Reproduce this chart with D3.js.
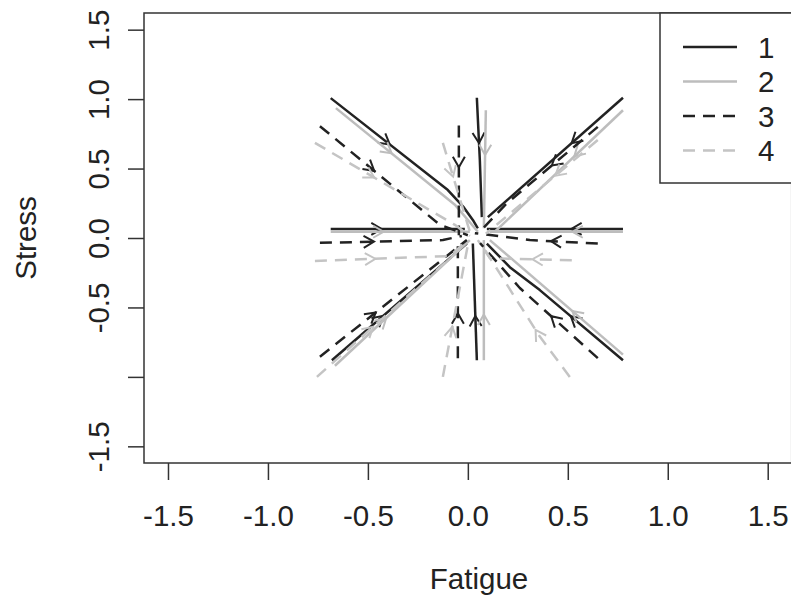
<!DOCTYPE html>
<html>
<head>
<meta charset="utf-8">
<script src="https://cdn.jsdelivr.net/npm/d3@7"></script>
<style>
  body { margin: 0; background: #fff; }
  text { font-family: "Liberation Sans", Arial, sans-serif; fill: #222; }
</style>
</head>
<body>
<svg id="chart" width="791" height="606"></svg>
<script>
// tick values and labels
var xTicks = [-1.5, -1.0, -0.5, 0.0, 0.5, 1.0, 1.5];
var xTickLabels = ['-1.5', '-1.0', '-0.5', '0.0', '0.5', '1.0', '1.5'];
var yTicks = [-1.5, -1.0, -0.5, 0.0, 0.5, 1.0, 1.5];
var yTickLabels = ['-1.5', '', '-0.5', '0.0', '0.5', '1.0', '1.5'];

var seriesNames = ['1', '2', '3', '4'];

// trajectories, each from its starting point towards the centre
var series1Paths = [
  [[-0.686, 1.007], [-0.10, 0.345], [-0.02, 0.22], [0.025, 0.13], [0.05, 0.07]],
  [[0.045, 1.01], [0.06, 0.56], [0.07, 0.15]],
  [[0.776, 1.01], [0.10, 0.15]],
  [[0.776, 0.065], [0.095, 0.065]],
  [[-0.686, 0.065], [-0.015, 0.065]],
  [[-0.68, -0.88], [-0.005, -0.04]],
  [[0.045, -0.88], [0.025, -0.04]],
  [[0.776, -0.88], [0.36, -0.375], [0.21, -0.21], [0.095, -0.04]]
];
var series2Paths = [
  [[-0.66, 0.935], [-0.065, 0.24], [0.05, 0.045]],
  [[0.09, 0.92], [0.08, 0.07]],
  [[0.776, 0.92], [0.135, 0.045]],
  [[0.776, 0.045], [0.11, 0.045]],
  [[-0.686, 0.045], [0.01, 0.045]],
  [[-0.665, -0.92], [0.01, -0.015]],
  [[0.08, -0.88], [0.08, -0.015]],
  [[0.776, -0.84], [0.11, -0.015]]
];
var series3Paths = [
  [[-0.74, 0.805], [-0.14, 0.095], [0.0, 0.02]],
  [[-0.045, 0.81], [-0.045, 0.02]],
  [[0.65, 0.80], [0.195, 0.25], [0.06, 0.045]],
  [[0.65, -0.04], [0.31, -0.015], [0.035, 0.035]],
  [[-0.74, -0.035], [-0.125, -0.015], [-0.03, 0.015]],
  [[-0.74, -0.855], [-0.005, -0.015]],
  [[-0.05, -0.865], [-0.05, -0.015]],
  [[0.65, -0.865], [0.26, -0.36], [0.06, -0.035]]
];
var series4Paths = [
  [[-0.765, 0.685], [-0.065, 0.095], [0.01, 0.015]],
  [[-0.125, 0.685], [0.01, 0.045]],
  [[0.65, 0.705], [0.09, 0.03]],
  [[0.52, -0.16], [0.11, -0.145], [0.05, -0.015]],
  [[-0.765, -0.165], [-0.09, -0.13], [0.0, -0.015]],
  [[-0.755, -1.0], [-0.015, -0.05]],
  [[-0.125, -1.0], [0.0, -0.05]],
  [[0.51, -1.0], [0.36, -0.71], [0.085, -0.085]]
];

var allSeries = [
  { name: seriesNames[0], paths: series1Paths, color: '#222', dash: null, width: 2.5 },
  { name: seriesNames[1], paths: series2Paths, color: '#bdbdbd', dash: null, width: 2.5 },
  { name: seriesNames[2], paths: series3Paths, color: '#222', dash: '12,8', width: 2.5 },
  { name: seriesNames[3], paths: series4Paths, color: '#c4c4c4', dash: '12,8', width: 2.5 }
];

var fontSize = 29.5;

var svg = d3.select('#chart');

var x = d3.scaleLinear().domain([-1.62, 1.62]).range([144, 791.7]);
var y = d3.scaleLinear().domain([-1.62, 1.62]).range([463, 13]);

// axes
var xAxis = svg.append('g')
  .attr('transform', 'translate(0,463)')
  .call(d3.axisBottom(x).tickValues(xTicks).tickSize(17).tickSizeOuter(0).tickPadding(25)
    .tickFormat(function(d, i) { return xTickLabels[i]; }));
xAxis.select('.domain').remove();
xAxis.selectAll('line').attr('stroke', '#333').attr('stroke-width', 1.5);
xAxis.selectAll('text').attr('font-size', fontSize).attr('fill', '#222');

var yAxis = svg.append('g')
  .attr('transform', 'translate(144,0)')
  .call(d3.axisLeft(y).tickValues(yTicks).tickSize(16).tickSizeOuter(0)
    .tickFormat(function(d, i) { return yTickLabels[i]; }));
yAxis.select('.domain').remove();
yAxis.selectAll('line').attr('stroke', '#333').attr('stroke-width', 1.5);
yAxis.selectAll('text')
  .attr('font-size', fontSize)
  .attr('fill', '#222')
  .attr('x', null)
  .attr('dy', null)
  .attr('text-anchor', 'middle')
  .attr('transform', 'translate(-46,0) rotate(-90)')
  .attr('dominant-baseline', 'central');

// axis titles
svg.append('text')
  .attr('x', 479).attr('y', 578)
  .attr('text-anchor', 'middle')
  .attr('dominant-baseline', 'central')
  .attr('font-size', fontSize)
  .text('Fatigue');
svg.append('text')
  .attr('transform', 'translate(25,238) rotate(-90)')
  .attr('text-anchor', 'middle')
  .attr('dominant-baseline', 'central')
  .attr('font-size', fontSize)
  .text('Stress');

// trajectories
var line = d3.line()
  .x(function(d) { return x(d[0]); })
  .y(function(d) { return y(d[1]); });

var pointAt = function(path, frac) {
  var pts = path.map(function(d) { return [x(d[0]), y(d[1])]; });
  var lens = [];
  var total = 0;
  for (var i = 1; i < pts.length; i++) {
    var l = Math.hypot(pts[i][0] - pts[i - 1][0], pts[i][1] - pts[i - 1][1]);
    lens.push(l);
    total += l;
  }
  var target = total * frac;
  for (var j = 0; j < lens.length; j++) {
    if (target <= lens[j] || j === lens.length - 1) {
      var t = target / lens[j];
      var a = pts[j], b = pts[j + 1];
      return {
        x: a[0] + (b[0] - a[0]) * t,
        y: a[1] + (b[1] - a[1]) * t,
        angle: Math.atan2(b[1] - a[1], b[0] - a[0])
      };
    }
    target -= lens[j];
  }
};

var plot = svg.append('g');

allSeries.forEach(function(s) {
  var g = plot.append('g').attr('class', 'series');
  g.selectAll('path.traj')
    .data(s.paths)
    .enter().append('path')
    .attr('class', 'traj')
    .attr('d', line)
    .attr('fill', 'none')
    .attr('stroke', s.color)
    .attr('stroke-width', s.width)
    .attr('stroke-linejoin', 'round')
    .attr('stroke-dasharray', s.dash);

  // open arrowheads part way along
  g.selectAll('path.arrow')
    .data(s.paths)
    .enter().append('path')
    .attr('class', 'arrow')
    .attr('d', function(p) {
      var m = pointAt(p, 0.38);
      var len = 12, spread = Math.PI / 6;
      var a1 = m.angle + Math.PI - spread, a2 = m.angle + Math.PI + spread;
      return 'M' + (m.x + len * Math.cos(a1)) + ',' + (m.y + len * Math.sin(a1)) +
        'L' + m.x + ',' + m.y +
        'L' + (m.x + len * Math.cos(a2)) + ',' + (m.y + len * Math.sin(a2));
    })
    .attr('fill', 'none')
    .attr('stroke', s.color)
    .attr('stroke-width', 2);
});

// plot box
svg.append('rect')
  .attr('x', 144).attr('y', 13)
  .attr('width', 647.7).attr('height', 450)
  .attr('fill', 'none')
  .attr('stroke', '#333')
  .attr('stroke-width', 1.5);

// legend
var legend = svg.append('g');
legend.append('rect')
  .attr('x', 660).attr('y', 13)
  .attr('width', 140).attr('height', 170)
  .attr('fill', '#fff')
  .attr('stroke', '#333')
  .attr('stroke-width', 1.5);

var legendItems = legend.selectAll('g.item')
  .data(allSeries)
  .enter().append('g')
  .attr('class', 'item')
  .attr('transform', function(d, i) { return 'translate(0,' + (47 + i * 34.5) + ')'; });
legendItems.append('line')
  .attr('x1', 683).attr('x2', 737)
  .attr('stroke', function(d) { return d.color; })
  .attr('stroke-width', 2.5)
  .attr('stroke-dasharray', function(d) { return d.dash; });
legendItems.append('text')
  .attr('x', 758)
  .attr('dominant-baseline', 'central')
  .attr('font-size', fontSize)
  .text(function(d) { return d.name; });
</script>
</body>
</html>
